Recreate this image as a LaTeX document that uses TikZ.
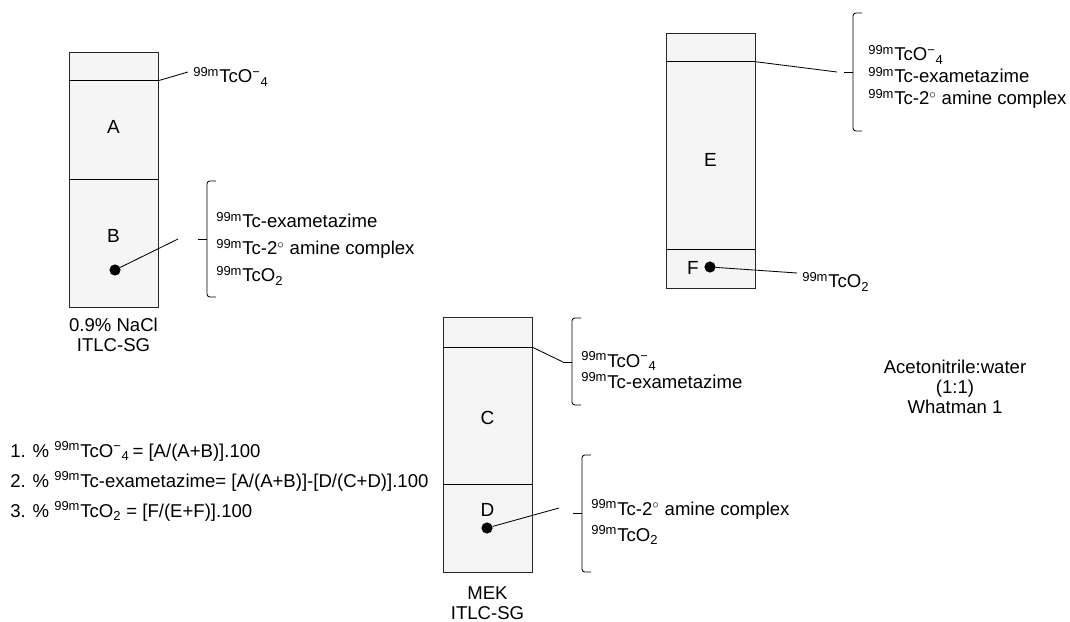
\documentclass[tikz,border=0pt]{standalone}
\usepackage{fontspec}
\setmainfont{Liberation Sans}
\usetikzlibrary{positioning, calc}

\tikzstyle{strip} = [rectangle, draw=black!85, fill=gray!8, minimum width=2.225cm, minimum height=6.375cm, inner sep=0pt]
\tikzstyle{spot} = [circle, fill=black, inner sep=0pt, minimum size=0.28cm]
\tikzstyle{lead} = [line width=0.6pt]
\tikzstyle{species} = [anchor=base west, inner sep=0pt]
\tikzstyle{zone} = [font=\fontsize{13.5}{14}\selectfont]

\newcommand{\tcm}{\textsuperscript{99m}Tc}
\newcommand{\pertech}{\tcm O\textsuperscript{−}\textsubscript{4}}
\newcommand{\dioxide}{\tcm O\textsubscript{2}}
\newcommand{\amine}{\tcm-2$^{\circ}$ amine complex}
% bracket: x, top, tip, bottom
\newcommand{\bracket}[4]{%
    \draw [lead, rounded corners=2pt] (#1+9,#2) -- (#1,#2) -- (#1,#4) -- (#1+9,#4);
    \draw [lead] (#1,#3) -- (#1-9,#3);}

\begin{document}
\begin{tikzpicture}[x=0.025cm, y=-0.025cm, every node/.style={font=\fontsize{13.2}{14.4}\selectfont}]
    \useasboundingbox (0,0) rectangle (1070,622);

    % NaCl strip (A / B)
    \node (nacl) [strip] at (113.5,179.5) {};
    \coordinate (frontA) at ([yshift=-0.725cm]nacl.north east);
    \draw [lead] ([yshift=-0.725cm]nacl.north west) -- (frontA);
    \draw [lead] ([yshift=-3.2cm]nacl.north west) -- ([yshift=-3.2cm]nacl.north east);
    \node (zoneA) [zone] at (113.5,127) {A};
    \node (zoneB) [zone] at (113.5,236) {B};
    \node (spotB) [spot] at (115,270) {};
    \node (naclname) [align=center, anchor=north, inner sep=0pt] at (113.5,318) {0.9\% NaCl\\ITLC-SG};

    \node (pertA) [species] at (193,83) {\pertech};
    \coordinate (endA) at (188,72);
    \draw [lead] (frontA) -- (endA);

    \bracket{207}{181}{239}{297}
    \coordinate (endB) at (178,239);
    \draw [lead] (spotB) -- (endB);
    \node (exaB) [species] at (216,228) {\tcm-exametazime};
    \node (amiB) [species] at (216,255) {\amine};
    \node (dioB) [species] at (216,282) {\dioxide};

    % MEK strip (C / D)
    \node (mek) [strip] at (487.5,445) {};
    \coordinate (frontC) at ([yshift=-0.75cm]mek.north east);
    \draw [lead] ([yshift=-0.75cm]mek.north west) -- (frontC);
    \draw [lead] ([yshift=-4.175cm]mek.north west) -- ([yshift=-4.175cm]mek.north east);
    \node (zoneC) [zone] at (487.5,418) {C};
    \node (zoneD) [zone] at (487.5,510) {D};
    \node (spotD) [spot] at (487,528) {};
    \node (mekname) [align=center, anchor=north, inner sep=0pt] at (487.5,586) {MEK\\ITLC-SG};

    \bracket{572}{318}{362}{405}
    \coordinate (tipC) at (563,362);
    \draw [lead] (frontC) -- (tipC);
    \node (pertC) [species] at (581,367) {\pertech};
    \node (exaC) [species] at (581,388) {\tcm-exametazime};

    \bracket{582}{455}{513}{572}
    \coordinate (endD) at (559,508);
    \draw [lead] (spotD) -- (endD);
    \node (amiD) [species] at (591,515) {\amine};
    \node (dioD) [species] at (591,541) {\dioxide};

    % Acetonitrile strip (E / F)
    \node (acn) [strip] at (710.5,160.5) {};
    \coordinate (frontE) at ([yshift=-0.725cm]acn.north east);
    \draw [lead] ([yshift=-0.725cm]acn.north west) -- (frontE);
    \draw [lead] ([yshift=-5.425cm]acn.north west) -- ([yshift=-5.425cm]acn.north east);
    \node (zoneE) [zone] at (710.5,160) {E};
    \node (zoneF) [zone] at (693,268) {F};
    \node (spotF) [spot] at (710,267) {};
    \node (acnname) [align=center, inner sep=0pt] at (955,387) {Acetonitrile:water\\(1:1)\\Whatman 1};

    \bracket{853}{13}{72}{131}
    \coordinate (endE) at (837,72);
    \draw [lead] (frontE) -- (endE);
    \node (pertE) [species] at (868,61) {\pertech};
    \node (exaE) [species] at (868,83) {\tcm-exametazime};
    \node (amiE) [species] at (868,105) {\amine};

    \node (dioF) [species] at (802,288) {\dioxide};
    \coordinate (endF) at (797,273);
    \draw [lead] (spotF) -- (endF);

    % Formulas
    \node (calc1) [species] at (10,457) {1. \% \pertech\,= [A/(A+B)].100};
    \node (calc2) [species] at (10,487) {2. \% \tcm-exametazime= [A/(A+B)]-[D/(C+D)].100};
    \node (calc3) [species] at (10,517) {3. \% \dioxide\ = [F/(E+F)].100};
\end{tikzpicture}
\end{document}
